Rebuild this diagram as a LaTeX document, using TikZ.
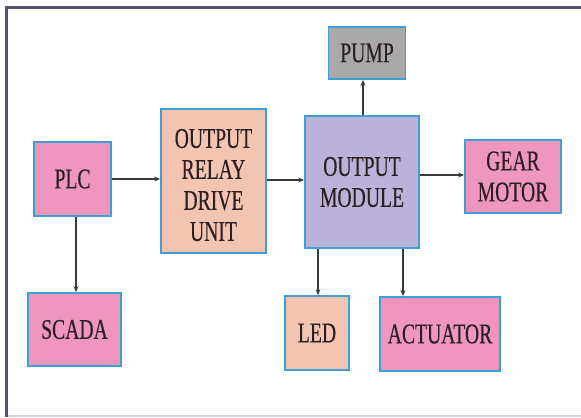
\documentclass[tikz,border=0pt]{standalone}
\usepackage{fontspec}
\setmainfont[FakeStretch=0.69,FakeBold=0.3]{Liberation Serif}
\usetikzlibrary{arrows.meta}
\definecolor{pinkf}{HTML}{EE96BE}
\definecolor{peachf}{HTML}{F4C4B2}
\definecolor{lavf}{HTML}{BAB2D8}
\definecolor{grayf}{HTML}{A9A9A9}
\definecolor{edgeb}{HTML}{3DA0D4}
\definecolor{txt}{HTML}{2B1F22}
\definecolor{arr}{HTML}{3A3A3A}
\definecolor{frameD}{HTML}{55556A}
\definecolor{frameL}{HTML}{D4D2E2}
\tikzset{
  blktext/.style={inner sep=0pt, align=center, text=txt,
    font=\fontsize{28.5bp}{31bp}\selectfont},
  blk/.style={blktext, draw=edgeb, line width=1.8bp, rectangle},
  conn/.style={draw=arr, line width=1.4bp, -{Stealth[length=6bp,width=5bp]}}
}
\begin{document}
\begin{tikzpicture}[x=1bp,y=-1bp]
\useasboundingbox (0,0) rectangle (581,417);
\fill[white] (0,0) rectangle (581,417);
% frame
\draw[frameL, line width=2bp] (6.5,415.5) -- (581,415.5);
\draw[frameD, line width=3bp] (6.5,417) -- (6.5,7.5) -- (581,7.5);
% blocks
\node[blk, fill=pinkf, minimum width=77bp, minimum height=74bp] (plc) at (72.5,179) {PLC};
\node[blk, fill=peachf, minimum width=105bp, minimum height=144bp] (relay) at (213.5,181) {};
\node[blktext] (relaytext) at ([yshift=-4bp]relay.center) {OUTPUT\\RELAY\\DRIVE\\UNIT};
\node[blk, fill=lavf, minimum width=114bp, minimum height=132bp] (module) at (362,182) {OUTPUT\\MODULE};
\node[blk, fill=grayf, minimum width=77bp, minimum height=52bp] (pump) at (367,53) {PUMP};
\node[blk, fill=pinkf, minimum width=96bp, minimum height=73bp] (gear) at (513,176.5) {GEAR\\MOTOR};
\node[blk, fill=pinkf, minimum width=93bp, minimum height=73bp] (scada) at (74.5,329.5) {SCADA};
\node[blk, fill=peachf, minimum width=64bp, minimum height=74bp] (led) at (317,333) {LED};
\node[blk, fill=pinkf, minimum width=120bp, minimum height=74bp] (act) at (440,334) {ACTUATOR};
% connectors
\draw[conn] (plc.east |- 0,179) -- (relay.west |- 0,179);
\draw[conn] (relay.east |- 0,180) -- (module.west |- 0,180);
\draw[conn] (module.east |- 0,175) -- (gear.west |- 0,175);
\draw[conn] (module.north -| 363,0) -- (pump.south -| 363,0);
\draw[conn] (plc.south -| 76,0) -- (scada.north -| 76,0);
\draw[conn] (module.south -| 318,0) -- (led.north -| 318,0);
\draw[conn] (module.south -| 403,0) -- (act.north -| 403,0);
\end{tikzpicture}
\end{document}
